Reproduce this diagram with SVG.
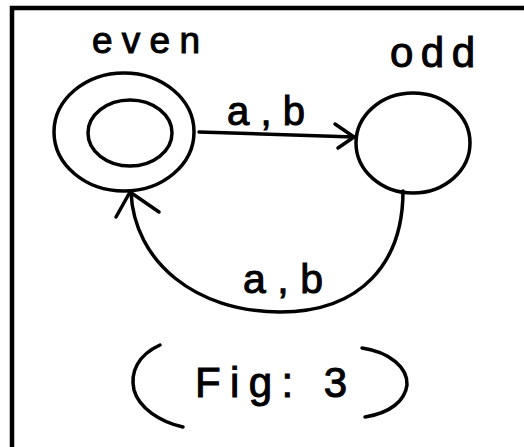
<svg xmlns="http://www.w3.org/2000/svg" width="524" height="447" viewBox="0 0 524 447">
<defs>
<style>
.s{fill:none;stroke:#000;stroke-width:3.5;stroke-linecap:round;stroke-linejoin:round}
.t{font-family:"Liberation Sans",Arial,sans-serif;fill:#000;stroke:#000;stroke-width:1}
</style>
</defs>
<rect width="524" height="447" fill="#fff"/>
<path d="M12,447 V8 H524" fill="none" stroke="#000" stroke-width="4.5"/>
<g id="even">
<ellipse class="s" cx="124" cy="132" rx="70" ry="59"/>
<ellipse class="s" cx="130" cy="133" rx="42" ry="33"/>
<text class="t" x="92" y="53" font-size="37" textLength="108" lengthAdjust="spacing">even</text>
</g>
<g id="odd">
<ellipse class="s" cx="413" cy="143" rx="57" ry="50"/>
<text class="t" x="390" y="67" font-size="42" textLength="85" lengthAdjust="spacing">odd</text>
</g>
<g id="connectors">
<path class="s" d="M199,132 L354,137"/>
<path class="s" d="M335,124 L354,137 L338,148"/>
<text class="t" x="227" y="125" font-size="40" textLength="78" lengthAdjust="spacing">a,b</text>
<path class="s" d="M403,191 C403,262 362,312 280,312 C196,312 134,262 131,192"/>
<path class="s" d="M116,217 L130,192 L159,212"/>
<text class="t" x="243" y="293" font-size="41" textLength="80" lengthAdjust="spacing">a,b</text>
</g>
<g id="caption">
<path class="s" d="M160,345 C138,355 130,372 134,390 C139,408 160,422 183,427"/>
<path class="s" d="M362,348 C390,352 408,368 407,385 C405,401 390,413 365,417"/>
<text class="t" x="195" y="397" font-size="42" textLength="152" lengthAdjust="spacing">Fig: 3</text>
</g>
</svg>
